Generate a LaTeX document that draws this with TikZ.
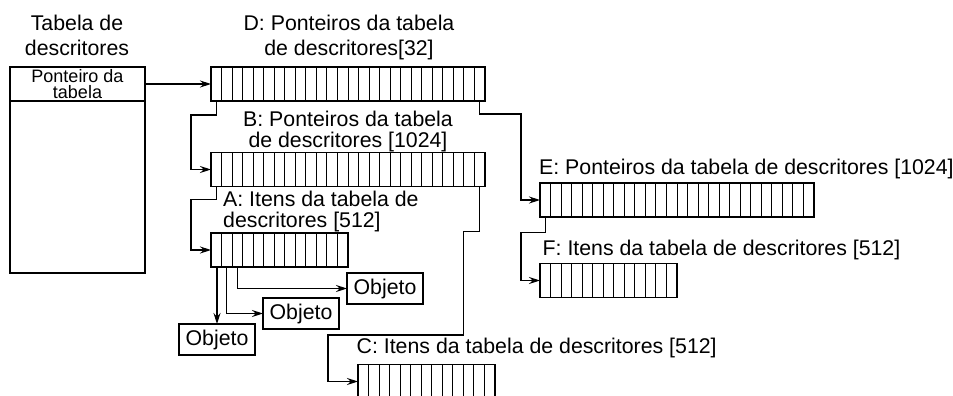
\documentclass[tikz,border=0pt]{standalone}
\usepackage{fontspec}
\setmainfont{Liberation Sans}
\usetikzlibrary{arrows.meta, calc}

\tikzset{
  vec/.style={draw, line width=1.6pt, minimum height=34pt, inner sep=0pt, outer sep=0pt},
  cellline/.style={line width=0.9pt},
  objbox/.style={draw, line width=1.1pt, minimum width=76pt, minimum height=31pt,
    inner sep=0pt, outer sep=0pt, font=\fontsize{21.3}{25}\selectfont},
  lbl/.style={inner sep=0pt, font=\fontsize{21.3}{21}\selectfont},
  link/.style={line width=1.1pt, -{Stealth[length=11pt, width=7pt]}},
}

\begin{document}
\begin{tikzpicture}[x=1pt, y=-1pt]
  \useasboundingbox (0,0) rectangle (953,396);

  % Tabela de descritores
  \node[lbl, align=center, font=\fontsize{21.3}{25}\selectfont] (title) at (77,35) {Tabela de\\descritores};
  \node[draw, line width=1.1pt, minimum width=135pt, minimum height=206pt, inner sep=0pt, outer sep=0pt] (tab) at (77.5,170) {};
  \node[draw, line width=1.1pt, minimum width=135pt, minimum height=34pt, inner sep=0pt, outer sep=0pt,
    align=center, font=\fontsize{18}{16.5}\selectfont] (ptr) at (77.5,84) {Ponteiro da\\tabela};

  % --- vetores ---
  \node[vec, minimum width=274pt] (D) at (348,84) {};
  \node[vec, minimum width=274pt] (B) at (348,169.5) {};
  \node[vec, minimum width=137pt] (A) at (279.5,250) {};
  \node[vec, minimum width=274pt] (E) at (677,200) {};
  \node[vec, minimum width=137pt] (F) at (608.5,280.5) {};
  \node[vec, minimum width=137pt] (C) at (426.5,381.5) {};
  \foreach \arr/\n in {D/26,B/26,A/13,E/26,F/13,C/13} {
    \pgfmathtruncatemacro\lastcell{\n-1}
    \foreach \i in {1,...,\lastcell}
      \draw[cellline] ($(\arr.north west)!\i/\n!(\arr.north east)$) -- ($(\arr.south west)!\i/\n!(\arr.south east)$);
  }

  % --- rotulos ---
  \node[lbl, align=center, font=\fontsize{21.3}{25}\selectfont] (Dlbl) at (349,37) {D: Ponteiros da tabela\\de descritores[32]};
  \node[lbl, align=center] (Blbl) at (348,131) {B: Ponteiros da tabela\\de descritores [1024]};
  \node[lbl, align=left, anchor=west] (Albl) at (223,211) {A: Itens da tabela de\\descritores [512]};
  \node[lbl, anchor=base west] (Elbl) at (539,174) {E: Ponteiros da tabela de descritores [1024]};
  \node[lbl, anchor=base west] (Flbl) at (542.5,255.7) {F: Itens da tabela de descritores [512]};
  \node[lbl, anchor=base west] (Clbl) at (356.5,353.3) {C: Itens da tabela de descritores [512]};

  % --- objetos ---
  \node[objbox] (O1) at (385,288.5) {Objeto};
  \node[objbox] (O2) at (301,313.5) {Objeto};
  \node[objbox] (O3) at (217,339.5) {Objeto};

  % --- ligacoes ---
  \draw[link] (ptr.east) -- (D.west);
  \draw[link] ($(D.south west)!0.5/26!(D.south east)$) -- ++(0,14) -| ($(B.west)+(-20,0)$) -- (B.west);
  \draw[link] ($(B.south west)!0.5/26!(B.south east)$) -- ++(0,13) -| ($(A.west)+(-20,0)$) -- (A.west);
  \draw[link] ($(D.south west)!25.5/26!(D.south east)$) -- ++(0,13) -| ($(E.west)+(-19,0)$) -- (E.west);
  \draw[link] ($(E.south west)!0.5/26!(E.south east)$) -- ++(0,15.5) -| ($(F.west)+(-19,0)$) -- (F.west);
  \draw[link] ($(B.south west)!25.5/26!(B.south east)$) -- ++(0,45) -- ++(-16,0) -- ++(0,103.5)
    -| ($(C.west)+(-30,0)$) -- (C.west);
  \draw[link] (O3 |- A.south) -- (O3.north);
  \draw[link] ($(A.south west)!1.5/13!(A.south east)$) |- (O2.west);
  \draw[link] ($(A.south west)!2.5/13!(A.south east)$) |- (O1.west);
\end{tikzpicture}
\end{document}
